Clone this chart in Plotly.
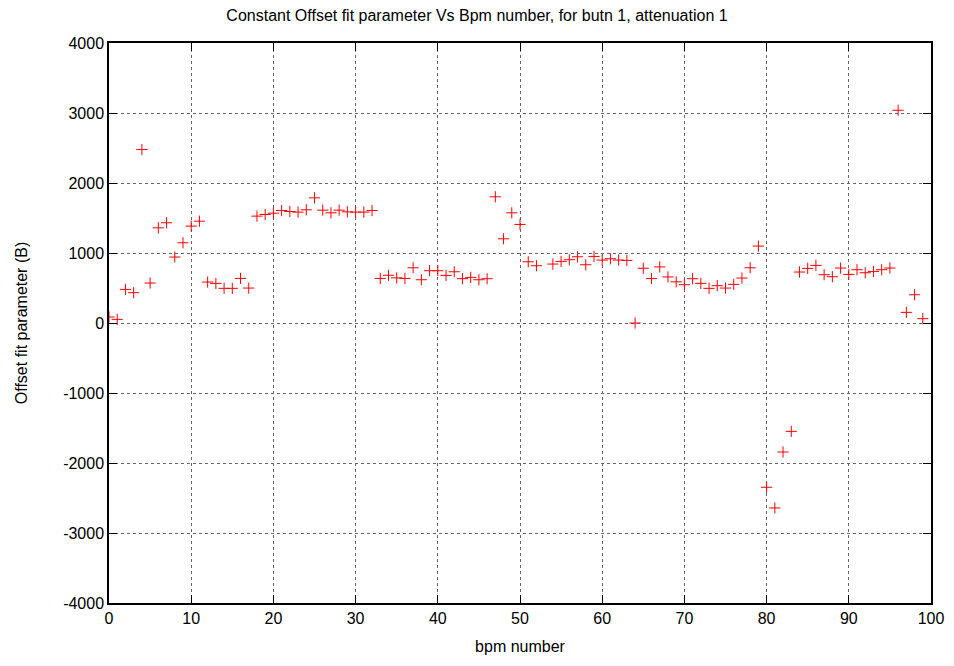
import plotly.graph_objects as go

bpm = [0, 1, 2, 3, 4, 5, 6, 7, 8, 9,
       10, 11, 12, 13, 14, 15, 16, 17, 18, 19,
       20, 21, 22, 23, 24, 25, 26, 27, 28, 29,
       30, 31, 32, 33, 34, 35, 36, 37, 38, 39,
       40, 41, 42, 43, 44, 45, 46, 47, 48, 49,
       50, 51, 52, 54, 55, 56, 57, 58, 59,
       60, 61, 62, 63, 64, 65, 66, 67, 68, 69,
       70, 71, 72, 73, 74, 75, 76, 77, 78, 79,
       80, 81, 82, 83, 84, 85, 86, 87, 88, 89,
       90, 91, 92, 93, 94, 95, 96, 97, 98, 99]

offset = [86, 52, 480, 433, 2478, 571, 1360, 1432, 942, 1146,
          1384, 1455, 585, 566, 495, 495, 637, 499, 1527, 1550,
          1569, 1607, 1593, 1584, 1617, 1788, 1612, 1574, 1612, 1588,
          1584, 1584, 1607, 637, 682, 645, 637, 789, 618, 747,
          747, 680, 732, 633, 652, 618, 633, 1803, 1203, 1574,
          1408, 875, 818, 842, 880, 904, 946, 832, 951,
          899, 918, 899, 894, 0, 782, 635, 801, 658, 588,
          547, 633, 566, 495, 533, 499, 552, 642, 789, 1099,
          -2347, -2642, -1843, -1548, 728, 780, 823, 690, 661, 785,
          694, 761, 718, 737, 761, 785, 3039, 152, 404, 62]

x_ticks = [0, 10, 20, 30, 40, 50, 60, 70, 80, 90, 100]
y_ticks = [-4000, -3000, -2000, -1000, 0, 1000, 2000, 3000, 4000]

FONT = "Liberation Sans, Arial, sans-serif"

fig = go.Figure()
fig.add_trace(go.Scatter(
    x=bpm, y=offset, mode="markers",
    marker=dict(symbol="cross-thin", size=8, color="#ff0000",
                line=dict(color="#ff0000", width=1)),
    showlegend=False,
))

axis_common = dict(
    showline=True, linecolor="black", linewidth=1.5, mirror="ticks",
    ticks="inside", ticklen=8, tickwidth=1, tickcolor="black",
    showgrid=True, gridcolor="#666666", griddash="dot", gridwidth=1,
    zeroline=False,
    tickfont=dict(family=FONT, size=16, color="black"),
)

fig.update_layout(
    width=954, height=666,
    paper_bgcolor="white", plot_bgcolor="white",
    margin=dict(l=101, r=31, t=35, b=71),
    font=dict(family=FONT, color="black"),
    title=dict(text="Constant Offset fit parameter Vs Bpm number, for butn 1, attenuation 1",
               x=469 / 954, xref="container", xanchor="center",
               y=1 - 7 / 666, yref="container", yanchor="middle",
               font=dict(family=FONT, size=16, color="black")),
    xaxis=dict(range=[0, 100], tickvals=x_ticks, ticktext=[str(v) for v in x_ticks],
               title=dict(text="bpm number", standoff=15,
                          font=dict(family=FONT, size=16, color="black")),
               **axis_common),
    yaxis=dict(range=[-4000, 4000], tickvals=y_ticks, ticktext=[str(v) for v in y_ticks],
               title=dict(text="Offset fit parameter (B)", standoff=32,
                          font=dict(family=FONT, size=16, color="black")),
               **axis_common),
)

fig.write_html("out.html")
